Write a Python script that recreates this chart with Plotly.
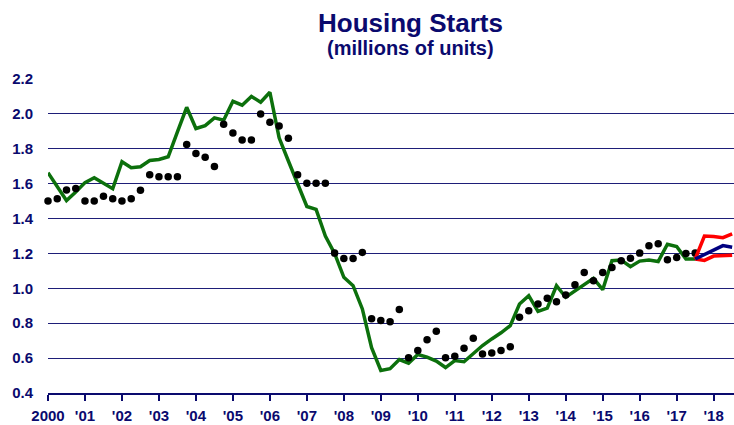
import plotly.graph_objects as go

# Quarterly periods (decimal years)
start_year = 2000
green_values = [
    1.663, 1.583, 1.503, 1.552,
    1.606, 1.634, 1.604, 1.571,
    1.726, 1.691, 1.697, 1.733,
    1.739, 1.754, 1.897, 2.038,
    1.916, 1.933, 1.977, 1.964,
    2.072, 2.050, 2.100, 2.067,
    2.124, 1.863, 1.730, 1.600,
    1.469, 1.453, 1.300, 1.200,
    1.063, 1.015, 0.882, 0.660,
    0.529, 0.539, 0.592, 0.571,
    0.621, 0.606, 0.583, 0.546,
    0.586, 0.579, 0.624, 0.672,
    0.710, 0.745, 0.786, 0.910,
    0.958, 0.868, 0.886, 1.015,
    0.949, 0.986, 1.025, 1.057,
    0.992, 1.158, 1.162, 1.124,
    1.156, 1.162, 1.154, 1.253,
    1.240, 1.168, 1.168,
]
dot_values = [
    1.501, 1.514, 1.564, 1.573,
    1.501, 1.501, 1.528, 1.514,
    1.501, 1.514, 1.562, 1.651,
    1.640, 1.640, 1.640, 1.825,
    1.773, 1.752, 1.699, 1.941,
    1.891, 1.851, 1.851, 2.000,
    1.952, 1.931, 1.861, 1.651,
    1.602, 1.602, 1.602, 1.202,
    1.171, 1.171, 1.206, 0.825,
    0.815, 0.809, 0.878, 0.602,
    0.643, 0.705, 0.754, 0.602,
    0.611, 0.657, 0.714, 0.624,
    0.630, 0.643, 0.665, 0.834,
    0.872, 0.910, 0.943, 0.923,
    0.962, 1.021, 1.091, 1.043,
    1.091, 1.120, 1.158, 1.173,
    1.202, 1.244, 1.255, 1.164,
    1.177, 1.200, 1.202,
]
forecast_x = [2017.5, 2017.75, 2018.0, 2018.25, 2018.5]
forecast_high = [1.168, 1.300, 1.297, 1.290, 1.312]
forecast_low = [1.168, 1.160, 1.185, 1.190, 1.190]
forecast_mid = [1.168, 1.195, 1.220, 1.245, 1.235]

tick_years = list(range(2000, 2019))
tick_labels = ["2000"] + ["'%02d" % (y % 100) for y in range(2001, 2019)]
y_ticks = [0.4, 0.6, 0.8, 1.0, 1.2, 1.4, 1.6, 1.8, 2.0, 2.2]

green_x = [start_year + i * 0.25 for i in range(len(green_values))]
dot_x = [start_year + i * 0.25 for i in range(len(dot_values))]

NAVY = "#0a0a6e"
FONT = "Liberation Sans, Arial, sans-serif"

fig = go.Figure()
fig.add_trace(go.Scatter(x=green_x, y=green_values, mode="lines",
                         line=dict(color="#0c700c", width=3.5), cliponaxis=False))
fig.add_trace(go.Scatter(x=dot_x, y=dot_values, mode="markers",
                         marker=dict(color="black", size=7.5), cliponaxis=False))
fig.add_trace(go.Scatter(x=forecast_x, y=forecast_high, mode="lines",
                         line=dict(color="#ff0000", width=3.5), cliponaxis=False))
fig.add_trace(go.Scatter(x=forecast_x, y=forecast_low, mode="lines",
                         line=dict(color="#ff0000", width=3.5), cliponaxis=False))
fig.add_trace(go.Scatter(x=forecast_x, y=forecast_mid, mode="lines",
                         line=dict(color="#000080", width=3.5), cliponaxis=False))

fig.update_layout(
    width=734, height=425,
    margin=dict(l=48, r=0, t=79, b=32, autoexpand=False),
    paper_bgcolor="white", plot_bgcolor="white",
    showlegend=False,
    font=dict(family=FONT, color=NAVY),
    xaxis=dict(range=[2000, 2018.55], tickmode="array", tickvals=tick_years,
               ticktext=["<b>%s</b>" % t for t in tick_labels],
               showgrid=False, zeroline=False, automargin=False,
               showline=True, linecolor=NAVY, linewidth=2,
               ticks="outside", ticklen=6, tickwidth=1.5, tickcolor=NAVY,
               ticklabelstandoff=2,
               tickfont=dict(size=15, color=NAVY, family=FONT)),
    yaxis=dict(range=[0.4, 2.2], tickmode="array", tickvals=y_ticks,
               ticktext=["<b>%.1f</b>" % v for v in y_ticks],
               showgrid=True, gridcolor="#1e1e78", gridwidth=1,
               zeroline=False, showline=False, ticks="", automargin=False,
               ticklabelstandoff=14,
               tickfont=dict(size=15, color=NAVY, family=FONT)),
    annotations=[
        dict(text="<b>Housing Starts</b>", xref="paper", yref="paper",
             x=0.5277, y=1.178, xanchor="center", yanchor="middle", showarrow=False,
             font=dict(size=26, color=NAVY, family=FONT)),
        dict(text="<b>(millions of units)</b>", xref="paper", yref="paper",
             x=0.5277, y=1.099, xanchor="center", yanchor="middle", showarrow=False,
             font=dict(size=20, color=NAVY, family=FONT)),
    ],
)

fig.write_html("out.html", config={"displayModeBar": False},
               post_script="document.body.style.margin='0';document.body.style.padding='0';")
